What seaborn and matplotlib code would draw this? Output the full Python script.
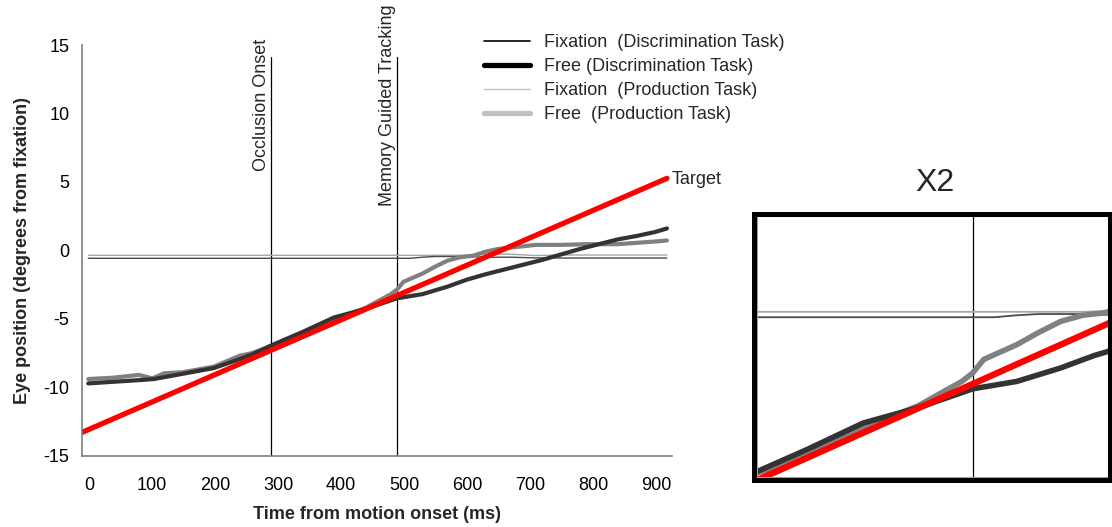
import numpy as np
import matplotlib
matplotlib.use("Agg")
import matplotlib.pyplot as plt
from matplotlib.lines import Line2D
from matplotlib.patches import Rectangle
from matplotlib.transforms import ScaledTranslation
import seaborn as sns

# ---- data (time in ms, eye position in degrees from fixation) ----
T_FREE_DISC = [10, 50, 94, 114, 150, 209, 250, 270, 300, 350, 400, 440, 455, 500,
               540, 580, 610, 640, 670, 700, 730, 760, 790, 820, 850, 880, 910, 928]
FREE_DISC = [-9.72, -9.6, -9.47, -9.4, -9.1, -8.6, -7.95, -7.6, -6.95, -5.96, -4.9, -4.4,
             -4.2, -3.5, -3.2, -2.65, -2.15, -1.75, -1.4, -1.05, -0.7, -0.3, 0.1, 0.45,
             0.8, 1.05, 1.35, 1.6]

T_FREE_PROD = [10, 50, 90, 112, 130, 160, 209, 250, 270, 300, 350, 400, 450, 470, 490,
               500, 510, 540, 560, 580, 600, 620, 640, 660, 690, 720, 760, 800, 850, 880,
               910, 928]
FREE_PROD = [-9.4, -9.3, -9.1, -9.35, -8.98, -8.9, -8.5, -7.7, -7.5, -7.0, -6.2, -5.1,
             -4.2, -3.7, -3.2, -2.85, -2.3, -1.7, -1.2, -0.75, -0.5, -0.4, -0.1, 0.1,
             0.25, 0.4, 0.4, 0.45, 0.45, 0.55, 0.65, 0.72]

T_FIX = [10, 500, 520, 540, 560, 600, 640, 680, 720, 760, 928]
FIX_DISC = [-0.58, -0.58, -0.58, -0.5, -0.45, -0.45, -0.5, -0.5, -0.55, -0.56, -0.56]
FIX_PROD = [-0.36, -0.36, -0.36, -0.36, -0.36, -0.36, -0.3, -0.28, -0.38, -0.34, -0.34]

T_TARGET = [0, 928]
TARGET = [-13.3, 5.26]

EVENTS_MS = [300, 500]
EVENT_LABELS = ["Occlusion Onset", "Memory Guided Tracking"]

X_TICKS = [0, 100, 200, 300, 400, 500, 600, 700, 800, 900]
Y_TICKS = [-15, -10, -5, 0, 5, 10, 15]

LEGEND_LABELS = ["Fixation  (Discrimination Task)", "Free (Discrimination Task)",
                 "Fixation  (Production Task)", "Free  (Production Task)"]

# ---- style ----
sns.set_style("white")
plt.rcParams["font.family"] = ["Liberation Sans", "DejaVu Sans"]

C_FREE_DISC = "#333333"
C_FREE_PROD = "#808080"
C_FIX_DISC = "#4a4a4a"
C_FIX_PROD = "#a6a6a6"
C_TARGET = "#ff0000"
FS = 13

fig = plt.figure(figsize=(11.12, 5.27), dpi=100)
ax = fig.add_axes([0.0737, 0.1353, 0.5306, 0.7793])


def draw_traces(a, thick, red_w, thin):
    sns.lineplot(x=T_FIX, y=FIX_PROD, ax=a, color=C_FIX_PROD, lw=thin,
                 estimator=None, sort=False)
    sns.lineplot(x=T_FIX, y=FIX_DISC, ax=a, color=C_FIX_DISC, lw=thin,
                 estimator=None, sort=False)
    sns.lineplot(x=T_FREE_PROD, y=FREE_PROD, ax=a, color=C_FREE_PROD, lw=thick,
                 estimator=None, sort=False)
    sns.lineplot(x=T_FREE_DISC, y=FREE_DISC, ax=a, color=C_FREE_DISC, lw=thick,
                 estimator=None, sort=False)
    sns.lineplot(x=T_TARGET, y=TARGET, ax=a, color=C_TARGET, lw=red_w,
                 estimator=None, sort=False)


draw_traces(ax, thick=3.0, red_w=3.8, thin=1.0)

# event markers
for t, lab in zip(EVENTS_MS, EVENT_LABELS):
    ax.plot([t, t], [-15, 14.1], color="black", lw=0.9, zorder=1)
    ax.text(t - 2, 10.6, lab, rotation=90, ha="right", va="center", fontsize=FS)

ax.text(936, 5.2, "Target", ha="left", va="center", fontsize=FS)

ax.set_xlim(0, 936)
ax.set_ylim(-15, 15)
ax.set_xticks(X_TICKS)
ax.set_yticks(Y_TICKS)
ax.set_xticklabels([str(v) for v in X_TICKS])
ax.set_yticklabels([str(v) for v in Y_TICKS])
for s in ["top", "right"]:
    ax.spines[s].set_visible(False)
for s in ["left", "bottom"]:
    ax.spines[s].set_color("#808080")
    ax.spines[s].set_linewidth(1.2)
ax.tick_params(axis="both", which="both", direction="out", length=4, width=1.1,
               color="#808080", labelsize=FS, labelcolor="black")
ax.tick_params(axis="x", pad=11)
ax.tick_params(axis="y", pad=5)
shift = ScaledTranslation(7 / 100, 0, fig.dpi_scale_trans)
for lbl in ax.get_xticklabels():
    lbl.set_transform(lbl.get_transform() + shift)

ax.set_xlabel("Time from motion onset (ms)", fontsize=FS, fontweight="bold", labelpad=9)
ax.set_ylabel("Eye position (degrees from fixation)", fontsize=FS, fontweight="bold",
              labelpad=9)

handles = [
    Line2D([], [], color="black", lw=1.2),
    Line2D([], [], color="black", lw=3.8),
    Line2D([], [], color="#c0c0c0", lw=1.0),
    Line2D([], [], color="#c0c0c0", lw=3.8),
]
fig.legend(handles, LEGEND_LABELS, loc="upper left",
           bbox_to_anchor=(470 / 1112, 1 - 20 / 527), frameon=False, fontsize=FS,
           handlelength=2.55, handletextpad=0.75, labelspacing=0.38, borderpad=0.3)

# ---- magnified inset around the start of memory-guided tracking ----
ins = fig.add_axes([0.6812, 0.0958, 0.3152, 0.4934])
draw_traces(ins, thick=4.0, red_w=4.6, thin=1.3)
ins.plot([500, 500], [-20, 20], color="black", lw=0.9, zorder=1)
ins.set_xlim(304, 623)
ins.set_ylim(-7.08, 3.53)
ins.set_xticks([])
ins.set_yticks([])
ins.set_xlabel("")
ins.set_ylabel("")
for s in ins.spines.values():
    s.set_color("#a0a0a0")
    s.set_linewidth(0.8)

fig.patches.append(Rectangle((0.6785, 0.0901), 0.3201, 0.5038, transform=fig.transFigure,
                             fill=False, edgecolor="black", lw=3.6, zorder=10))
fig.text(935 / 1112, 1 - 183 / 527, "X2", ha="center", va="center", fontsize=23)

fig.savefig("out.png", dpi=100)
